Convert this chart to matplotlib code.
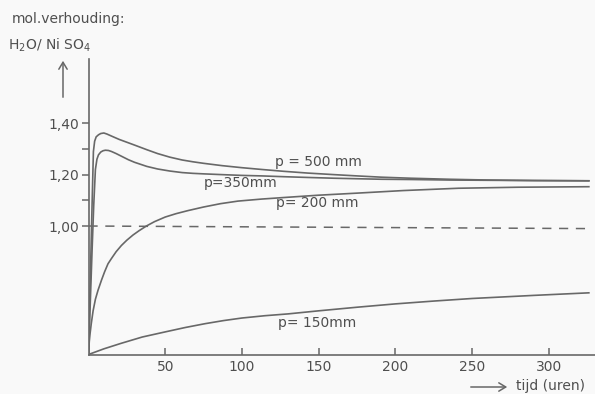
import matplotlib
matplotlib.use('Agg')
import matplotlib.pyplot as plt

# mol. verhouding H2O / NiSO4 tegen de tijd (uren), voor vier drukken
t_500 = [0, 0.8, 1.6, 2.4, 3.2, 4, 5, 6.5, 8, 10, 12, 15, 20, 25, 30, 38, 45, 53,
         61, 68, 75, 87, 100, 113, 127, 143, 160, 175, 191, 210, 235, 260, 290, 326]
r_500 = [0.50, 0.70, 0.90, 1.10, 1.29, 1.33, 1.347, 1.355, 1.36, 1.362, 1.358,
         1.35, 1.337, 1.326, 1.315, 1.297, 1.282, 1.268, 1.257, 1.25, 1.244,
         1.235, 1.227, 1.22, 1.213, 1.206, 1.200, 1.195, 1.190, 1.186, 1.182,
         1.179, 1.177, 1.176]

t_350 = [0, 1.15, 2.3, 3.4, 4.5, 5.5, 6.5, 8, 9.5, 11, 13, 15, 18, 22, 26, 30,
         38, 45, 53, 61, 68, 75, 87, 100, 113, 127, 143, 160, 175, 191, 210,
         235, 260, 290, 326]
r_350 = [0.50, 0.70, 0.90, 1.08, 1.22, 1.26, 1.277, 1.288, 1.293, 1.295, 1.294,
         1.29, 1.282, 1.27, 1.258, 1.248, 1.232, 1.222, 1.214, 1.208, 1.205,
         1.203, 1.200, 1.197, 1.195, 1.192, 1.189, 1.186, 1.184, 1.182, 1.181,
         1.179, 1.178, 1.177, 1.176]

t_200 = [0, 0.5, 1, 1.8, 3, 4.5, 6.2, 8.5, 10.5, 12.7, 15, 18, 21.4, 25, 29, 33,
         37.7, 43, 50, 57, 64.8, 75, 86, 97.4, 113, 130, 150, 175, 205, 241,
         280, 326]
r_200 = [0.50, 0.55, 0.58, 0.62, 0.67, 0.715, 0.75, 0.79, 0.822, 0.853, 0.874,
         0.90, 0.924, 0.945, 0.965, 0.982, 1.00, 1.017, 1.035, 1.048, 1.06,
         1.074, 1.087, 1.097, 1.105, 1.112, 1.12, 1.128, 1.138, 1.147, 1.151,
         1.153]

t_150 = [0, 10, 21, 35, 50, 63, 76, 88, 100, 115, 130, 150, 175, 200, 225, 250,
         290, 326]
r_150 = [0.50, 0.522, 0.543, 0.568, 0.588, 0.605, 0.62, 0.632, 0.642, 0.651,
         0.658, 0.67, 0.684, 0.697, 0.708, 0.718, 0.73, 0.74]

dash_t = [0, 326]
dash_r = [1.00, 0.99]

y_major = [1.00, 1.20, 1.40]
y_major_labels = ['1,00', '1,20', '1,40']
y_minor = [1.10, 1.30]
x_ticks = [50, 100, 150, 200, 250, 300]

curve_labels = ['p = 500 mm', 'p=350mm', 'p= 200 mm', 'p= 150mm']
label_t = [150, 99, 149, 149]
label_r = [1.25, 1.166, 1.088, 0.623]

ink = '#686868'
txt = '#4f4f4f'
bg = '#f9f9f9'
W, H = 595, 394
fs = 10

fig = plt.figure(figsize=(W / 100, H / 100), dpi=100, facecolor=bg)
ax = fig.add_axes([88.5 / W, (H - 354.5) / H, 506.5 / W, 295.5 / H])
ax.set_facecolor(bg)

for t, r in [(t_500, r_500), (t_350, r_350), (t_200, r_200), (t_150, r_150)]:
    ax.plot(t, r, color=ink, lw=1.2, solid_joinstyle='round')
ax.plot(dash_t, dash_r, color=ink, lw=1.1, linestyle=(0, (6, 5)))

for s, x, y in zip(curve_labels, label_t, label_r):
    ax.text(x, y, s, ha='center', va='center', fontsize=fs, color=txt)

ax.set_xlim(0, 330)
ax.set_ylim(0.5, 1.65)

for side in ['top', 'right']:
    ax.spines[side].set_visible(False)
for side in ['left', 'bottom']:
    ax.spines[side].set_color(ink)
    ax.spines[side].set_linewidth(1.2)

ax.set_xticks(x_ticks)
ax.set_xticklabels([str(v) for v in x_ticks])
ax.set_yticks(y_major)
ax.set_yticklabels(y_major_labels)
ax.set_yticks(y_minor, minor=True)
ax.tick_params(axis='x', direction='in', length=5, width=1.1, color=ink,
               labelcolor=txt, labelsize=fs, pad=4)
ax.tick_params(axis='y', which='both', direction='out', length=5, width=1.1,
               color=ink, labelcolor=txt, labelsize=fs, pad=2)

# as-titels en pijlen
fig.text(12 / W, 1 - 19 / H, 'mol.verhouding:', ha='left', va='center',
         fontsize=fs, color=txt)
fig.text(8 / W, 1 - 45 / H, r'H$_2$O/ Ni SO$_4$', ha='left', va='center',
         fontsize=fs, color=txt)
fig.add_artist(matplotlib.patches.FancyArrowPatch(
    (63 / W, 1 - 100 / H), (63 / W, 1 - 58 / H), transform=fig.transFigure,
    arrowstyle='->,head_length=5,head_width=3', color=ink, lw=1.1))
fig.add_artist(matplotlib.patches.FancyArrowPatch(
    (468 / W, 1 - 387 / H), (510 / W, 1 - 387 / H), transform=fig.transFigure,
    arrowstyle='->,head_length=5,head_width=3', color=ink, lw=1.1))
fig.text(516 / W, 1 - 386 / H, 'tijd (uren)', ha='left', va='center',
         fontsize=fs, color=txt)

fig.savefig('out.png', dpi=100, facecolor=bg)
